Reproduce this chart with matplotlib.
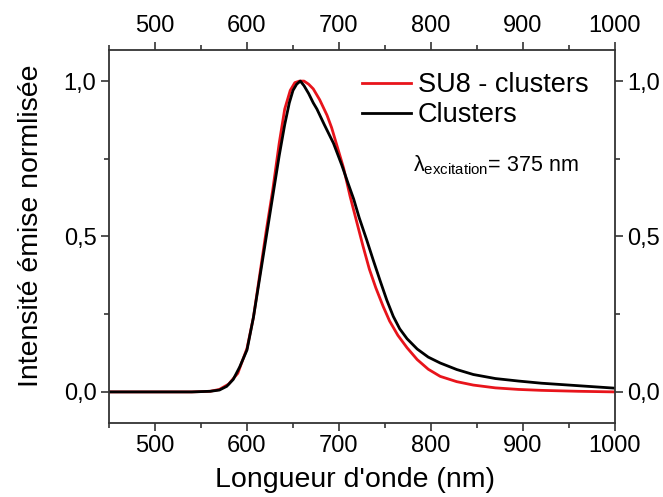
import matplotlib
matplotlib.use("Agg")
import matplotlib.pyplot as plt
from matplotlib.ticker import MultipleLocator, FuncFormatter

plt.rcParams['font.family'] = ['Liberation Sans', 'DejaVu Sans']
plt.rcParams['mathtext.fontset'] = 'custom'
plt.rcParams['mathtext.rm'] = 'Liberation Sans'
plt.rcParams['mathtext.it'] = 'Liberation Sans'

# SU8 - clusters (red)
wl_su8 = [450, 540, 560, 570, 580, 590, 600, 607, 614, 621, 628, 635, 641, 647,
          652, 657, 662, 667, 672, 679, 687, 692, 698, 705, 712, 719, 726, 733,
          740, 748, 755, 764, 774, 785, 797, 810, 828, 846, 870, 895, 920, 960, 1000]
int_su8 = [0, 0, 0.002, 0.008, 0.025, 0.06, 0.14, 0.24, 0.38, 0.52, 0.65, 0.80, 0.91, 0.97,
           0.995, 1.0, 1.0, 0.99, 0.975, 0.94, 0.89, 0.85, 0.79, 0.72, 0.63, 0.55, 0.47, 0.395,
           0.335, 0.275, 0.228, 0.182, 0.142, 0.104, 0.073, 0.05, 0.033, 0.022, 0.013, 0.008,
           0.005, 0.002, 0.0]

# Clusters (black)
wl_cl = [450, 540, 560, 570, 578, 585, 592, 600, 607, 614, 621, 628, 635, 641, 646,
         650, 654, 658, 662, 667, 672, 676, 684, 694, 703, 710, 716, 722, 730, 737,
         745, 752, 759, 766, 774, 785, 797, 810, 828, 846, 870, 895, 920, 950, 975, 1000]
int_cl = [0, 0, 0.002, 0.006, 0.018, 0.04, 0.08, 0.135, 0.24, 0.37, 0.50, 0.63, 0.76, 0.86,
          0.93, 0.97, 0.99, 1.0, 0.985, 0.96, 0.93, 0.91, 0.86, 0.80, 0.73, 0.67, 0.62, 0.56,
          0.49, 0.426, 0.355, 0.295, 0.243, 0.203, 0.171, 0.138, 0.112, 0.093, 0.072, 0.056,
          0.043, 0.035, 0.028, 0.022, 0.017, 0.012]

fig = plt.figure(figsize=(6.63, 4.97), dpi=100)
ax = fig.add_axes([0.1644, 0.1489, 0.7632, 0.7505])

ax.plot(wl_su8, int_su8, color='#e8141b', lw=2, label='SU8 - clusters')
ax.plot(wl_cl, int_cl, color='black', lw=2, label='Clusters')

ax.set_xlim(450, 1000)
ax.set_ylim(-0.1, 1.1)
ax.xaxis.set_major_locator(MultipleLocator(100))
ax.xaxis.set_minor_locator(MultipleLocator(50))
ax.yaxis.set_major_locator(MultipleLocator(0.5))
ax.yaxis.set_minor_locator(MultipleLocator(0.25))
ax.yaxis.set_major_formatter(FuncFormatter(lambda v, p: f"{v:.1f}".replace('.', ',')))

ax.tick_params(which='both', direction='out', top=True, right=True,
               labeltop=True, labelright=True, color='#333333', width=1.2)
ax.tick_params(which='major', length=6, labelsize=17, pad=3)
ax.tick_params(which='minor', length=3.5)
for s in ax.spines.values():
    s.set_linewidth(1.3)
    s.set_color('#333333')

ax.set_xlabel("Longueur d'onde (nm)", fontsize=20.5, labelpad=7, x=0.486)
ax.set_ylabel("Intensité émise normlisée", fontsize=20.5, labelpad=14, y=0.528)

ax.legend(loc='upper left', bbox_to_anchor=(0.5, 0.94), frameon=False, fontsize=19.5,
          handlelength=1.8, handletextpad=0.25, labelspacing=0.15, borderaxespad=0,
          borderpad=0)
ax.text(0.6, 0.675, r"$\lambda_{\mathregular{excitation}}$= 375 nm", transform=ax.transAxes,
        fontsize=15.5)

fig.savefig('out.png', dpi=100)
